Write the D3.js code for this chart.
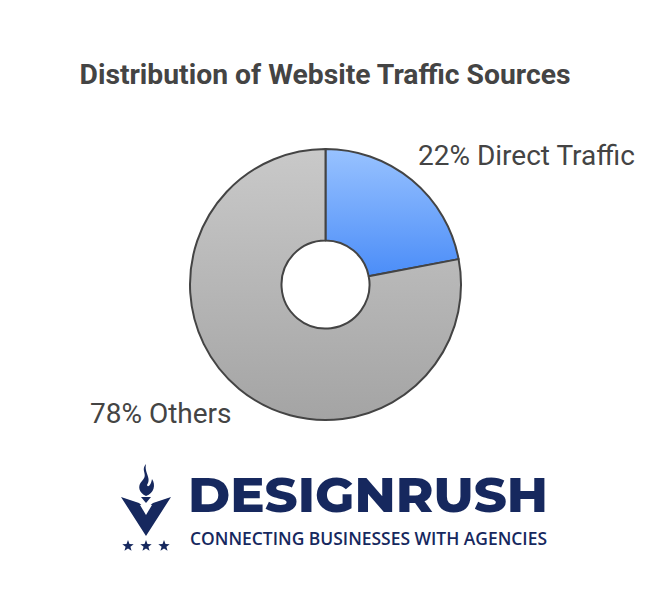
<!DOCTYPE html>
<html><head><meta charset="utf-8">
<script src="https://cdn.jsdelivr.net/npm/d3@7/dist/d3.min.js"></script>
<style>body{margin:0;background:#fff}svg{display:block}</style>
</head><body>
<script>
const categories = ["Direct Traffic", "Others"];
const values = [22, 78];
const labels = ["22% Direct Traffic", "78% Others"];

const W = 650, H = 606;
const svg = d3.select("body").append("svg").attr("width", W).attr("height", H);
const defs = svg.append("defs");
const gBlue = defs.append("linearGradient").attr("id","gBlue").attr("x1",0).attr("y1",0).attr("x2",0).attr("y2",1);
gBlue.append("stop").attr("offset","0%").attr("stop-color","#98c2ff");
gBlue.append("stop").attr("offset","100%").attr("stop-color","#4b8df8");
const gGray = defs.append("linearGradient").attr("id","gGray").attr("x1",0).attr("y1",0).attr("x2",0).attr("y2",1);
gGray.append("stop").attr("offset","0%").attr("stop-color","#c9c9c9");
gGray.append("stop").attr("offset","100%").attr("stop-color","#a4a4a4");
const fills = ["url(#gBlue)","url(#gGray)"];

svg.append("text").attr("x",325).attr("y",84).attr("text-anchor","middle")
  .style("font-family","Roboto").style("font-weight","bold").style("font-size","28.3px")
  .attr("fill","#444").text("Distribution of Website Traffic Sources");

const cx = 325.5, cy = 284.5, R = 135.5, r = 44;
const pie = d3.pie().sort(null).value(d=>d);
const arc = d3.arc().innerRadius(r).outerRadius(R);
const g = svg.append("g").attr("transform",`translate(${cx},${cy})`);
g.selectAll("path").data(pie(values)).join("path")
  .attr("d",arc).attr("fill",(d,i)=>fills[i])
  .attr("stroke","#444").attr("stroke-width",2).attr("stroke-linejoin","round");

svg.append("text").attr("x",418).attr("y",165)
  .style("font-family","Roboto").style("font-size","28px").attr("fill","#444").text(labels[0]);
svg.append("text").attr("x",90).attr("y",423)
  .style("font-family","Roboto").style("font-size","28px").attr("fill","#444").text(labels[1]);

// Logo
const navy = "#16285e";
const logo = svg.append("g");
logo.append("text").attr("x",188).attr("y",512)
  .style("font-family","Montserrat, 'Open Sans', Roboto").style("font-weight","800").style("font-size","49px")
  .attr("fill",navy).attr("textLength",360).attr("lengthAdjust","spacingAndGlyphs").text("DESIGNRUSH");
logo.append("text").attr("x",190).attr("y",545)
  .style("font-family","'Open Sans', Roboto").style("font-weight","600").style("font-size","18px")
  .attr("fill",navy).attr("textLength",357).attr("lengthAdjust","spacingAndGlyphs").text("CONNECTING BUSINESSES WITH AGENCIES");
// V shape
logo.append("path").attr("fill",navy)
  .attr("d","M121,497 L139,503 L146,509 L153,503 L171,497 L146,536 Z");
logo.append("path").attr("fill","#fff")
  .attr("d","M140,505 L152,505 L146,515 Z");
// flame + cup
logo.append("path").attr("fill",navy)
  .attr("d","M141,497 L151,497 L146,503 Z");
logo.append("path").attr("fill",navy)
  .attr("d","M146,464 C140,471 149,474 142,481 C137,486 139,493 146,496 C154,493 156,485 152,479 C151,485 148,488 147,485 C152,478 144,473 146,464 Z");
// stars
function star(x,y,s){
  const pts=[];for(let i=0;i<10;i++){const a=-Math.PI/2+i*Math.PI/5;const rr=i%2?s*0.42:s;pts.push([x+rr*Math.cos(a),y+rr*Math.sin(a)]);}
  return "M"+pts.map(p=>p.join(",")).join("L")+"Z";
}
[128,146,164].forEach(x=>logo.append("path").attr("fill",navy).attr("d",star(x,546,6)));
</script>
</body></html>
